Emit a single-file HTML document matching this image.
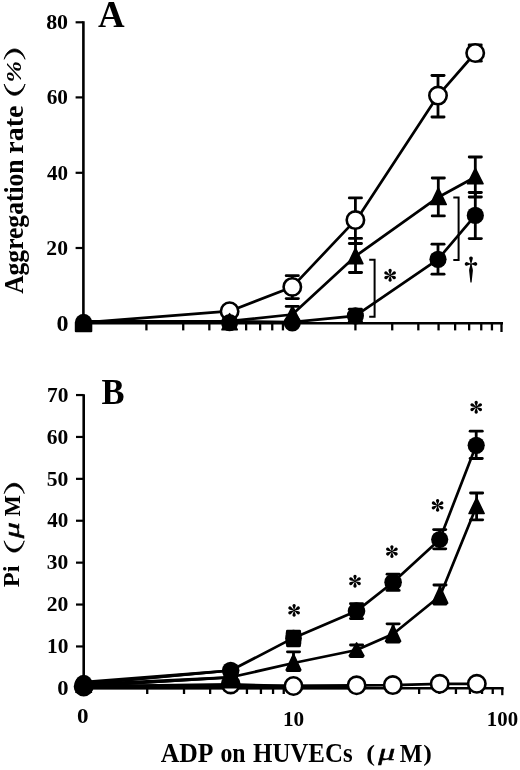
<!DOCTYPE html>
<html><head><meta charset="utf-8"><title>Figure</title>
<style>
html,body{margin:0;padding:0;background:#fff;}
svg{display:block;will-change:transform;}
text{font-family:"Liberation Serif",serif;font-size:100px;fill:#000;}
</style></head>
<body>
<svg width="520" height="770" viewBox="0 0 520 770">
<rect width="520" height="770" fill="#fff"/>
<line x1="83.40" y1="21.30" x2="83.40" y2="324.30" stroke="#000" stroke-width="2.60" stroke-linecap="butt"/>
<line x1="82.10" y1="323.30" x2="503.00" y2="323.30" stroke="#000" stroke-width="2.50" stroke-linecap="butt"/>
<line x1="75.60" y1="22.30" x2="83.40" y2="22.30" stroke="#000" stroke-width="2.20" stroke-linecap="butt"/>
<line x1="75.60" y1="97.40" x2="83.40" y2="97.40" stroke="#000" stroke-width="2.20" stroke-linecap="butt"/>
<line x1="75.60" y1="172.80" x2="83.40" y2="172.80" stroke="#000" stroke-width="2.20" stroke-linecap="butt"/>
<line x1="75.60" y1="248.00" x2="83.40" y2="248.00" stroke="#000" stroke-width="2.20" stroke-linecap="butt"/>
<line x1="146.42" y1="323.30" x2="146.42" y2="330.40" stroke="#000" stroke-width="2.30" stroke-linecap="butt"/>
<line x1="183.22" y1="323.30" x2="183.22" y2="330.40" stroke="#000" stroke-width="2.30" stroke-linecap="butt"/>
<line x1="209.33" y1="323.30" x2="209.33" y2="330.40" stroke="#000" stroke-width="2.30" stroke-linecap="butt"/>
<line x1="229.58" y1="323.30" x2="229.58" y2="330.40" stroke="#000" stroke-width="2.30" stroke-linecap="butt"/>
<line x1="246.13" y1="323.30" x2="246.13" y2="330.40" stroke="#000" stroke-width="2.30" stroke-linecap="butt"/>
<line x1="260.13" y1="323.30" x2="260.13" y2="330.40" stroke="#000" stroke-width="2.30" stroke-linecap="butt"/>
<line x1="272.25" y1="323.30" x2="272.25" y2="330.40" stroke="#000" stroke-width="2.30" stroke-linecap="butt"/>
<line x1="282.94" y1="323.30" x2="282.94" y2="330.40" stroke="#000" stroke-width="2.30" stroke-linecap="butt"/>
<line x1="292.50" y1="323.30" x2="292.50" y2="330.40" stroke="#000" stroke-width="2.30" stroke-linecap="butt"/>
<line x1="355.42" y1="323.30" x2="355.42" y2="330.40" stroke="#000" stroke-width="2.30" stroke-linecap="butt"/>
<line x1="392.22" y1="323.30" x2="392.22" y2="330.40" stroke="#000" stroke-width="2.30" stroke-linecap="butt"/>
<line x1="418.33" y1="323.30" x2="418.33" y2="330.40" stroke="#000" stroke-width="2.30" stroke-linecap="butt"/>
<line x1="438.58" y1="323.30" x2="438.58" y2="330.40" stroke="#000" stroke-width="2.30" stroke-linecap="butt"/>
<line x1="455.13" y1="323.30" x2="455.13" y2="330.40" stroke="#000" stroke-width="2.30" stroke-linecap="butt"/>
<line x1="469.13" y1="323.30" x2="469.13" y2="330.40" stroke="#000" stroke-width="2.30" stroke-linecap="butt"/>
<line x1="481.25" y1="323.30" x2="481.25" y2="330.40" stroke="#000" stroke-width="2.30" stroke-linecap="butt"/>
<line x1="491.94" y1="323.30" x2="491.94" y2="330.40" stroke="#000" stroke-width="2.30" stroke-linecap="butt"/>
<line x1="501.50" y1="323.30" x2="501.50" y2="332.00" stroke="#000" stroke-width="2.30" stroke-linecap="butt"/>
<text transform="translate(46.13 28.59) scale(0.2195 0.2148)" style="font-weight:bold">80</text>
<text transform="translate(46.65 104.08) scale(0.2130 0.2178)" style="font-weight:bold">60</text>
<text transform="translate(46.88 179.58) scale(0.2106 0.2163)" style="font-weight:bold">40</text>
<text transform="translate(46.33 254.59) scale(0.2163 0.2133)" style="font-weight:bold">20</text>
<text transform="translate(56.54 330.67) scale(0.2405 0.2267)" style="font-weight:bold">0</text>
<text transform="translate(97.93 26.60) scale(0.3688 0.3818)" style="font-weight:bold">A</text>
<text transform="translate(23.30 293.86) rotate(-90) scale(0.2556 0.2742)" style="font-weight:bold">Aggregation</text>
<text transform="translate(23.30 153.70) rotate(-90) scale(0.2802 0.2742)" style="font-weight:bold">rate</text>
<path d="M4.20,84.00 C7.53,99.07 21.67,99.07 25.00,84.00 C20.84,95.33 8.36,95.33 4.20,84.00 Z" fill="#000" stroke="#000" stroke-width="0.8" stroke-linejoin="round"/>
<text transform="translate(20.69 82.58) rotate(-90) scale(0.2587 0.2088)" style="font-weight:bold;font-style:italic">%</text>
<path d="M4.20,59.30 C7.53,45.57 21.67,45.57 25.00,59.30 C20.84,49.30 8.36,49.30 4.20,59.30 Z" fill="#000" stroke="#000" stroke-width="0.8" stroke-linejoin="round"/>
<polyline points="83.50,322.60 229.60,311.20 292.30,286.90 355.40,220.10" fill="none" stroke="#000" stroke-width="2.70" stroke-linejoin="round"/>
<polyline points="356.40,220.10 438.00,95.60 475.20,53.00" fill="none" stroke="#000" stroke-width="2.70" stroke-linejoin="round"/>
<line x1="292.30" y1="275.70" x2="292.30" y2="298.60" stroke="#000" stroke-width="2.80" stroke-linecap="butt"/>
<line x1="286.20" y1="275.70" x2="298.40" y2="275.70" stroke="#000" stroke-width="2.80" stroke-linecap="round"/>
<line x1="286.20" y1="298.60" x2="298.40" y2="298.60" stroke="#000" stroke-width="2.80" stroke-linecap="round"/>
<line x1="355.40" y1="197.90" x2="355.40" y2="243.50" stroke="#000" stroke-width="2.80" stroke-linecap="butt"/>
<line x1="349.30" y1="197.90" x2="361.50" y2="197.90" stroke="#000" stroke-width="2.80" stroke-linecap="round"/>
<line x1="349.30" y1="243.50" x2="361.50" y2="243.50" stroke="#000" stroke-width="2.80" stroke-linecap="round"/>
<line x1="438.00" y1="75.50" x2="438.00" y2="117.00" stroke="#000" stroke-width="2.80" stroke-linecap="butt"/>
<line x1="431.90" y1="75.50" x2="444.10" y2="75.50" stroke="#000" stroke-width="2.80" stroke-linecap="round"/>
<line x1="431.90" y1="117.00" x2="444.10" y2="117.00" stroke="#000" stroke-width="2.80" stroke-linecap="round"/>
<line x1="475.20" y1="44.90" x2="475.20" y2="61.00" stroke="#000" stroke-width="2.80" stroke-linecap="butt"/>
<line x1="469.10" y1="44.90" x2="481.30" y2="44.90" stroke="#000" stroke-width="2.80" stroke-linecap="round"/>
<line x1="477.00" y1="61.20" x2="481.30" y2="61.20" stroke="#000" stroke-width="2.80" stroke-linecap="round"/>
<circle cx="229.60" cy="311.20" r="8.70" fill="#fff" stroke="#000" stroke-width="2.60"/>
<circle cx="292.30" cy="286.90" r="8.70" fill="#fff" stroke="#000" stroke-width="2.60"/>
<circle cx="355.40" cy="220.10" r="8.70" fill="#fff" stroke="#000" stroke-width="2.60"/>
<circle cx="438.00" cy="95.60" r="8.70" fill="#fff" stroke="#000" stroke-width="2.60"/>
<circle cx="475.20" cy="53.00" r="8.70" fill="#fff" stroke="#000" stroke-width="2.60"/>
<polyline points="83.50,321.30 229.60,321.20 292.30,314.50 355.50,256.20 438.30,197.20 475.30,177.00" fill="none" stroke="#000" stroke-width="2.70" stroke-linejoin="round"/>
<line x1="292.30" y1="306.40" x2="292.30" y2="322.00" stroke="#000" stroke-width="2.80" stroke-linecap="butt"/>
<line x1="286.20" y1="306.40" x2="298.40" y2="306.40" stroke="#000" stroke-width="2.80" stroke-linecap="round"/>
<line x1="286.20" y1="322.00" x2="298.40" y2="322.00" stroke="#000" stroke-width="2.80" stroke-linecap="round"/>
<line x1="355.50" y1="238.40" x2="355.50" y2="272.50" stroke="#000" stroke-width="2.80" stroke-linecap="butt"/>
<line x1="349.40" y1="238.40" x2="361.60" y2="238.40" stroke="#000" stroke-width="2.80" stroke-linecap="round"/>
<line x1="349.40" y1="272.50" x2="361.60" y2="272.50" stroke="#000" stroke-width="2.80" stroke-linecap="round"/>
<line x1="438.30" y1="178.00" x2="438.30" y2="215.90" stroke="#000" stroke-width="2.80" stroke-linecap="butt"/>
<line x1="432.20" y1="178.00" x2="444.40" y2="178.00" stroke="#000" stroke-width="2.80" stroke-linecap="round"/>
<line x1="432.20" y1="215.90" x2="444.40" y2="215.90" stroke="#000" stroke-width="2.80" stroke-linecap="round"/>
<line x1="475.30" y1="157.00" x2="475.30" y2="197.00" stroke="#000" stroke-width="2.80" stroke-linecap="butt"/>
<line x1="469.20" y1="157.00" x2="481.40" y2="157.00" stroke="#000" stroke-width="2.80" stroke-linecap="round"/>
<line x1="469.20" y1="197.00" x2="481.40" y2="197.00" stroke="#000" stroke-width="2.80" stroke-linecap="round"/>
<polygon points="229.60,313.60 221.90,329.75 237.30,329.75" fill="#000" stroke="#000" stroke-width="1.5" stroke-linejoin="round"/>
<polygon points="292.50,306.20 284.40,322.35 300.60,322.35" fill="#000" stroke="#000" stroke-width="1.5" stroke-linejoin="round"/>
<polygon points="355.50,248.00 348.10,263.65 362.90,263.65" fill="#000" stroke="#000" stroke-width="1.5" stroke-linejoin="round"/>
<polygon points="438.30,188.00 430.30,204.55 446.30,204.55" fill="#000" stroke="#000" stroke-width="1.5" stroke-linejoin="round"/>
<polygon points="475.30,168.40 467.50,183.75 483.10,183.75" fill="#000" stroke="#000" stroke-width="1.5" stroke-linejoin="round"/>
<polyline points="83.50,321.30 229.60,321.30 292.30,322.20 355.40,315.80 438.00,259.30 475.30,215.40" fill="none" stroke="#000" stroke-width="2.70" stroke-linejoin="round"/>
<line x1="355.40" y1="309.20" x2="355.40" y2="321.50" stroke="#000" stroke-width="2.80" stroke-linecap="butt"/>
<line x1="349.30" y1="309.20" x2="361.50" y2="309.20" stroke="#000" stroke-width="2.80" stroke-linecap="round"/>
<line x1="349.30" y1="321.50" x2="361.50" y2="321.50" stroke="#000" stroke-width="2.80" stroke-linecap="round"/>
<line x1="438.00" y1="244.20" x2="438.00" y2="274.20" stroke="#000" stroke-width="2.80" stroke-linecap="butt"/>
<line x1="431.90" y1="244.20" x2="444.10" y2="244.20" stroke="#000" stroke-width="2.80" stroke-linecap="round"/>
<line x1="431.90" y1="274.20" x2="444.10" y2="274.20" stroke="#000" stroke-width="2.80" stroke-linecap="round"/>
<line x1="475.30" y1="192.50" x2="475.30" y2="238.60" stroke="#000" stroke-width="2.80" stroke-linecap="butt"/>
<line x1="469.20" y1="192.50" x2="481.40" y2="192.50" stroke="#000" stroke-width="2.80" stroke-linecap="round"/>
<line x1="469.20" y1="238.60" x2="481.40" y2="238.60" stroke="#000" stroke-width="2.80" stroke-linecap="round"/>
<circle cx="229.60" cy="322.60" r="8.60" fill="#000"/>
<circle cx="292.30" cy="322.80" r="8.60" fill="#000"/>
<circle cx="355.40" cy="315.80" r="8.60" fill="#000"/>
<circle cx="438.00" cy="259.30" r="8.60" fill="#000"/>
<circle cx="475.30" cy="215.40" r="8.60" fill="#000"/>
<path d="M74.8,322.6 A8.75,8.75 0 0 1 92.3,322.6 L92.3,331.2 Q92.3,332.3 91.2,332.3 L75.9,332.3 Q74.8,332.3 74.8,331.2 Z" fill="#000"/>
<polyline points="369.2,259.8 374.6,259.8 374.6,316.8 369.2,316.8" fill="none" stroke="#000" stroke-width="2.0"/>
<polyline points="453.3,197.4 458.6,197.4 458.6,259.9 453.3,259.9" fill="none" stroke="#000" stroke-width="2.0"/>
<g transform="translate(390.10 275.30)" fill="#000"><path transform="rotate(0)" d="M0,0.2 L-1.52,-4.17 A1.65,1.65 0 1 1 1.52,-4.17 Z"/><path transform="rotate(60)" d="M0,0.2 L-1.52,-4.17 A1.65,1.65 0 1 1 1.52,-4.17 Z"/><path transform="rotate(120)" d="M0,0.2 L-1.52,-4.17 A1.65,1.65 0 1 1 1.52,-4.17 Z"/><path transform="rotate(180)" d="M0,0.2 L-1.52,-4.17 A1.65,1.65 0 1 1 1.52,-4.17 Z"/><path transform="rotate(240)" d="M0,0.2 L-1.52,-4.17 A1.65,1.65 0 1 1 1.52,-4.17 Z"/><path transform="rotate(300)" d="M0,0.2 L-1.52,-4.17 A1.65,1.65 0 1 1 1.52,-4.17 Z"/><circle r="1.0"/></g>
<g fill="#000"><path d="M471.00,264.90 L469.33,259.07 A1.85,1.85 0 1 1 472.67,259.07 Z"/><path d="M471.50,263.90 L467.26,265.47 A1.76,1.76 0 1 1 467.26,262.33 Z"/><path d="M470.50,263.90 L474.74,262.33 A1.76,1.76 0 1 1 474.74,265.47 Z"/><path d="M470.30,263.90 C470.10,266.90 469.10,268.40 469.10,270.40 L470.40,282.50 L471.60,282.50 L472.90,270.40 C472.90,268.40 471.90,266.90 471.70,263.90 Z"/></g>
<line x1="83.70" y1="394.20" x2="83.70" y2="689.20" stroke="#000" stroke-width="2.60" stroke-linecap="butt"/>
<line x1="82.40" y1="688.20" x2="503.60" y2="688.20" stroke="#000" stroke-width="2.50" stroke-linecap="butt"/>
<line x1="76.00" y1="646.45" x2="83.70" y2="646.45" stroke="#000" stroke-width="2.20" stroke-linecap="butt"/>
<line x1="76.00" y1="604.55" x2="83.70" y2="604.55" stroke="#000" stroke-width="2.20" stroke-linecap="butt"/>
<line x1="76.00" y1="562.65" x2="83.70" y2="562.65" stroke="#000" stroke-width="2.20" stroke-linecap="butt"/>
<line x1="76.00" y1="520.75" x2="83.70" y2="520.75" stroke="#000" stroke-width="2.20" stroke-linecap="butt"/>
<line x1="76.00" y1="478.85" x2="83.70" y2="478.85" stroke="#000" stroke-width="2.20" stroke-linecap="butt"/>
<line x1="76.00" y1="436.95" x2="83.70" y2="436.95" stroke="#000" stroke-width="2.20" stroke-linecap="butt"/>
<line x1="76.00" y1="395.05" x2="83.70" y2="395.05" stroke="#000" stroke-width="2.20" stroke-linecap="butt"/>
<line x1="147.22" y1="688.20" x2="147.22" y2="694.00" stroke="#000" stroke-width="2.30" stroke-linecap="butt"/>
<line x1="184.02" y1="688.20" x2="184.02" y2="694.00" stroke="#000" stroke-width="2.30" stroke-linecap="butt"/>
<line x1="210.13" y1="688.20" x2="210.13" y2="694.00" stroke="#000" stroke-width="2.30" stroke-linecap="butt"/>
<line x1="230.38" y1="688.20" x2="230.38" y2="694.00" stroke="#000" stroke-width="2.30" stroke-linecap="butt"/>
<line x1="246.93" y1="688.20" x2="246.93" y2="694.00" stroke="#000" stroke-width="2.30" stroke-linecap="butt"/>
<line x1="260.93" y1="688.20" x2="260.93" y2="694.00" stroke="#000" stroke-width="2.30" stroke-linecap="butt"/>
<line x1="273.05" y1="688.20" x2="273.05" y2="694.00" stroke="#000" stroke-width="2.30" stroke-linecap="butt"/>
<line x1="283.74" y1="688.20" x2="283.74" y2="694.00" stroke="#000" stroke-width="2.30" stroke-linecap="butt"/>
<line x1="293.30" y1="688.20" x2="293.30" y2="694.00" stroke="#000" stroke-width="2.30" stroke-linecap="butt"/>
<line x1="356.22" y1="688.20" x2="356.22" y2="694.00" stroke="#000" stroke-width="2.30" stroke-linecap="butt"/>
<line x1="393.02" y1="688.20" x2="393.02" y2="694.00" stroke="#000" stroke-width="2.30" stroke-linecap="butt"/>
<line x1="419.13" y1="688.20" x2="419.13" y2="694.00" stroke="#000" stroke-width="2.30" stroke-linecap="butt"/>
<line x1="439.38" y1="688.20" x2="439.38" y2="694.00" stroke="#000" stroke-width="2.30" stroke-linecap="butt"/>
<line x1="455.93" y1="688.20" x2="455.93" y2="694.00" stroke="#000" stroke-width="2.30" stroke-linecap="butt"/>
<line x1="469.93" y1="688.20" x2="469.93" y2="694.00" stroke="#000" stroke-width="2.30" stroke-linecap="butt"/>
<line x1="482.05" y1="688.20" x2="482.05" y2="694.00" stroke="#000" stroke-width="2.30" stroke-linecap="butt"/>
<line x1="492.74" y1="688.20" x2="492.74" y2="694.00" stroke="#000" stroke-width="2.30" stroke-linecap="butt"/>
<line x1="502.30" y1="688.20" x2="502.30" y2="695.20" stroke="#000" stroke-width="2.30" stroke-linecap="butt"/>
<text transform="translate(46.99 653.18) scale(0.2136 0.2163)" style="font-weight:bold">10</text>
<text transform="translate(46.73 611.28) scale(0.2163 0.2163)" style="font-weight:bold">20</text>
<text transform="translate(46.85 569.38) scale(0.2151 0.2163)" style="font-weight:bold">30</text>
<text transform="translate(47.28 527.48) scale(0.2106 0.2163)" style="font-weight:bold">40</text>
<text transform="translate(46.73 485.58) scale(0.2163 0.2163)" style="font-weight:bold">50</text>
<text transform="translate(46.85 443.68) scale(0.2151 0.2163)" style="font-weight:bold">60</text>
<text transform="translate(46.92 401.78) scale(0.2144 0.2163)" style="font-weight:bold">70</text>
<text transform="translate(57.20 694.50) scale(0.2262 0.2044)" style="font-weight:bold">0</text>
<text transform="translate(101.38 403.82) scale(0.3456 0.3682)" style="font-weight:bold">B</text>
<text transform="translate(76.98 722.98) scale(0.2310 0.2178)" style="font-weight:bold">0</text>
<text transform="translate(282.90 725.58) scale(0.2125 0.2193)" style="font-weight:bold">10</text>
<text transform="translate(486.84 725.58) scale(0.2080 0.2193)" style="font-weight:bold">100</text>
<text transform="translate(160.74 761.80) scale(0.2569 0.2636)" style="font-weight:bold">ADP</text>
<text transform="translate(220.45 761.80) scale(0.2380 0.2636)" style="font-weight:bold">on</text>
<text transform="translate(253.03 761.80) scale(0.2490 0.2636)" style="font-weight:bold">HUVECs</text>
<text transform="translate(366.32 760.59) scale(0.2627 0.2330)" style="font-weight:bold">(</text>
<text transform="translate(378.20 760.30) scale(0.3383 0.2326)" style="font-style:italic;stroke:#000;stroke-width:2.10">μ</text>
<text transform="translate(399.84 761.60) scale(0.2400 0.2565)" style="font-weight:bold">M</text>
<text transform="translate(423.13 760.59) scale(0.2577 0.2330)" style="font-weight:bold">)</text>
<text transform="translate(19.20 587.37) rotate(-90) scale(0.2465 0.2382)" style="font-weight:bold">Pi</text>
<path d="M4.20,540.80 C7.40,555.87 21.00,555.87 24.20,540.80 C20.20,552.13 8.20,552.13 4.20,540.80 Z" fill="#000" stroke="#000" stroke-width="0.8" stroke-linejoin="round"/>
<text transform="translate(19.25 538.30) rotate(-90) scale(0.3191 0.2163)" style="font-style:italic;stroke:#000;stroke-width:2.24">μ</text>
<text transform="translate(19.50 516.54) rotate(-90) scale(0.2267 0.2321)" style="font-weight:bold">M</text>
<path d="M4.20,493.60 C7.40,479.87 21.00,479.87 24.20,493.60 C20.20,483.60 8.20,483.60 4.20,493.60 Z" fill="#000" stroke="#000" stroke-width="0.8" stroke-linejoin="round"/>
<polyline points="83.70,686.40 230.70,684.40 293.50,686.00 356.60,685.30 392.80,685.10 439.70,683.80 476.80,683.80" fill="none" stroke="#000" stroke-width="2.70" stroke-linejoin="round"/>
<line x1="84.00" y1="686.85" x2="350.00" y2="686.85" stroke="#000" stroke-width="4.90" stroke-linecap="butt"/>
<circle cx="83.70" cy="686.40" r="8.70" fill="#fff" stroke="#000" stroke-width="2.60"/>
<circle cx="230.70" cy="684.40" r="8.70" fill="#fff" stroke="#000" stroke-width="2.60"/>
<circle cx="293.50" cy="686.00" r="8.70" fill="#fff" stroke="#000" stroke-width="2.60"/>
<circle cx="356.60" cy="685.30" r="8.70" fill="#fff" stroke="#000" stroke-width="2.60"/>
<circle cx="392.80" cy="685.10" r="8.70" fill="#fff" stroke="#000" stroke-width="2.60"/>
<circle cx="439.70" cy="683.80" r="8.70" fill="#fff" stroke="#000" stroke-width="2.60"/>
<circle cx="476.80" cy="683.80" r="8.70" fill="#fff" stroke="#000" stroke-width="2.60"/>
<polyline points="83.70,686.00 230.70,677.30 293.50,663.00 356.60,650.00 393.10,634.00 440.00,596.00 476.60,506.00" fill="none" stroke="#000" stroke-width="2.70" stroke-linejoin="round"/>
<polygon points="83.83,687.70 230.77,678.50 230.63,676.10 83.57,683.10" fill="#000"/>
<line x1="293.50" y1="651.80" x2="293.50" y2="670.70" stroke="#000" stroke-width="2.80" stroke-linecap="butt"/>
<line x1="287.40" y1="651.80" x2="299.60" y2="651.80" stroke="#000" stroke-width="2.80" stroke-linecap="round"/>
<line x1="287.40" y1="670.70" x2="299.60" y2="670.70" stroke="#000" stroke-width="2.80" stroke-linecap="round"/>
<line x1="356.60" y1="645.00" x2="356.60" y2="656.50" stroke="#000" stroke-width="2.80" stroke-linecap="butt"/>
<line x1="350.50" y1="645.00" x2="362.70" y2="645.00" stroke="#000" stroke-width="2.80" stroke-linecap="round"/>
<line x1="350.50" y1="656.50" x2="362.70" y2="656.50" stroke="#000" stroke-width="2.80" stroke-linecap="round"/>
<line x1="393.10" y1="623.80" x2="393.10" y2="642.00" stroke="#000" stroke-width="2.80" stroke-linecap="butt"/>
<line x1="387.00" y1="623.80" x2="399.20" y2="623.80" stroke="#000" stroke-width="2.80" stroke-linecap="round"/>
<line x1="387.00" y1="642.00" x2="399.20" y2="642.00" stroke="#000" stroke-width="2.80" stroke-linecap="round"/>
<line x1="440.00" y1="585.00" x2="440.00" y2="604.00" stroke="#000" stroke-width="2.80" stroke-linecap="butt"/>
<line x1="433.90" y1="585.00" x2="446.10" y2="585.00" stroke="#000" stroke-width="2.80" stroke-linecap="round"/>
<line x1="433.90" y1="604.00" x2="446.10" y2="604.00" stroke="#000" stroke-width="2.80" stroke-linecap="round"/>
<line x1="476.60" y1="493.00" x2="476.60" y2="519.80" stroke="#000" stroke-width="2.80" stroke-linecap="butt"/>
<line x1="470.50" y1="493.00" x2="482.70" y2="493.00" stroke="#000" stroke-width="2.80" stroke-linecap="round"/>
<line x1="470.50" y1="519.80" x2="482.70" y2="519.80" stroke="#000" stroke-width="2.80" stroke-linecap="round"/>
<polygon points="83.70,677.60 75.90,692.35 91.50,692.35" fill="#000" stroke="#000" stroke-width="1.5" stroke-linejoin="round"/>
<rect x="75.2" y="683" width="16.9" height="8.6" rx="1" fill="#000"/>
<polygon points="230.70,668.10 223.00,684.85 238.40,684.85" fill="#000" stroke="#000" stroke-width="1.5" stroke-linejoin="round"/>
<rect x="222.4" y="682" width="16.6" height="6.5" fill="#000"/>
<rect x="223.4" y="671" width="14.6" height="14" fill="#000"/>
<polygon points="293.50,654.00 286.10,670.05 300.90,670.05" fill="#000" stroke="#000" stroke-width="1.5" stroke-linejoin="round"/>
<polygon points="356.60,642.80 349.20,655.85 364.00,655.85" fill="#000" stroke="#000" stroke-width="1.5" stroke-linejoin="round"/>
<polygon points="393.10,624.80 385.50,641.35 400.70,641.35" fill="#000" stroke="#000" stroke-width="1.5" stroke-linejoin="round"/>
<polygon points="440.00,586.40 432.30,603.15 447.70,603.15" fill="#000" stroke="#000" stroke-width="1.5" stroke-linejoin="round"/>
<polygon points="476.60,497.90 469.00,513.55 484.20,513.55" fill="#000" stroke="#000" stroke-width="1.5" stroke-linejoin="round"/>
<polyline points="83.70,683.60 230.70,670.50 293.50,637.90 356.50,611.10 393.10,582.30 439.70,539.50 476.20,445.30" fill="none" stroke="#000" stroke-width="2.70" stroke-linejoin="round"/>
<polygon points="83.91,685.59 230.80,671.70 230.60,669.30 83.49,680.81" fill="#000"/>
<line x1="293.50" y1="631.20" x2="293.50" y2="645.80" stroke="#000" stroke-width="2.80" stroke-linecap="butt"/>
<line x1="287.40" y1="631.20" x2="299.60" y2="631.20" stroke="#000" stroke-width="2.80" stroke-linecap="round"/>
<line x1="287.40" y1="645.80" x2="299.60" y2="645.80" stroke="#000" stroke-width="2.80" stroke-linecap="round"/>
<line x1="356.50" y1="603.70" x2="356.50" y2="618.60" stroke="#000" stroke-width="2.80" stroke-linecap="butt"/>
<line x1="350.40" y1="603.70" x2="362.60" y2="603.70" stroke="#000" stroke-width="2.80" stroke-linecap="round"/>
<line x1="350.40" y1="618.60" x2="362.60" y2="618.60" stroke="#000" stroke-width="2.80" stroke-linecap="round"/>
<line x1="393.10" y1="574.20" x2="393.10" y2="590.40" stroke="#000" stroke-width="2.80" stroke-linecap="butt"/>
<line x1="387.00" y1="574.20" x2="399.20" y2="574.20" stroke="#000" stroke-width="2.80" stroke-linecap="round"/>
<line x1="387.00" y1="590.40" x2="399.20" y2="590.40" stroke="#000" stroke-width="2.80" stroke-linecap="round"/>
<line x1="439.70" y1="529.60" x2="439.70" y2="548.80" stroke="#000" stroke-width="2.80" stroke-linecap="butt"/>
<line x1="433.60" y1="529.60" x2="445.80" y2="529.60" stroke="#000" stroke-width="2.80" stroke-linecap="round"/>
<line x1="433.60" y1="548.80" x2="445.80" y2="548.80" stroke="#000" stroke-width="2.80" stroke-linecap="round"/>
<line x1="476.20" y1="431.20" x2="476.20" y2="458.50" stroke="#000" stroke-width="2.80" stroke-linecap="butt"/>
<line x1="470.10" y1="431.20" x2="482.30" y2="431.20" stroke="#000" stroke-width="2.80" stroke-linecap="round"/>
<line x1="470.10" y1="458.50" x2="482.30" y2="458.50" stroke="#000" stroke-width="2.80" stroke-linecap="round"/>
<circle cx="83.70" cy="683.60" r="8.80" fill="#000"/>
<circle cx="230.70" cy="670.50" r="8.80" fill="#000"/>
<circle cx="356.50" cy="611.10" r="8.80" fill="#000"/>
<circle cx="393.10" cy="582.30" r="8.80" fill="#000"/>
<circle cx="439.70" cy="539.50" r="8.60" fill="#000"/>
<circle cx="476.20" cy="445.30" r="8.60" fill="#000"/>
<rect x="285.70" y="630.10" width="15.60" height="16.10" rx="3.2" fill="#000"/>
<circle cx="293.50" cy="638.15" r="8.30" fill="#000"/>
<circle cx="83.70" cy="686.50" r="9.00" fill="#000"/>
<g transform="translate(294.10 610.40)" fill="#000"><path transform="rotate(0)" d="M0,0.2 L-1.52,-4.17 A1.65,1.65 0 1 1 1.52,-4.17 Z"/><path transform="rotate(60)" d="M0,0.2 L-1.52,-4.17 A1.65,1.65 0 1 1 1.52,-4.17 Z"/><path transform="rotate(120)" d="M0,0.2 L-1.52,-4.17 A1.65,1.65 0 1 1 1.52,-4.17 Z"/><path transform="rotate(180)" d="M0,0.2 L-1.52,-4.17 A1.65,1.65 0 1 1 1.52,-4.17 Z"/><path transform="rotate(240)" d="M0,0.2 L-1.52,-4.17 A1.65,1.65 0 1 1 1.52,-4.17 Z"/><path transform="rotate(300)" d="M0,0.2 L-1.52,-4.17 A1.65,1.65 0 1 1 1.52,-4.17 Z"/><circle r="1.0"/></g>
<g transform="translate(355.00 581.20)" fill="#000"><path transform="rotate(0)" d="M0,0.2 L-1.52,-4.17 A1.65,1.65 0 1 1 1.52,-4.17 Z"/><path transform="rotate(60)" d="M0,0.2 L-1.52,-4.17 A1.65,1.65 0 1 1 1.52,-4.17 Z"/><path transform="rotate(120)" d="M0,0.2 L-1.52,-4.17 A1.65,1.65 0 1 1 1.52,-4.17 Z"/><path transform="rotate(180)" d="M0,0.2 L-1.52,-4.17 A1.65,1.65 0 1 1 1.52,-4.17 Z"/><path transform="rotate(240)" d="M0,0.2 L-1.52,-4.17 A1.65,1.65 0 1 1 1.52,-4.17 Z"/><path transform="rotate(300)" d="M0,0.2 L-1.52,-4.17 A1.65,1.65 0 1 1 1.52,-4.17 Z"/><circle r="1.0"/></g>
<g transform="translate(391.90 551.60)" fill="#000"><path transform="rotate(0)" d="M0,0.2 L-1.52,-4.17 A1.65,1.65 0 1 1 1.52,-4.17 Z"/><path transform="rotate(60)" d="M0,0.2 L-1.52,-4.17 A1.65,1.65 0 1 1 1.52,-4.17 Z"/><path transform="rotate(120)" d="M0,0.2 L-1.52,-4.17 A1.65,1.65 0 1 1 1.52,-4.17 Z"/><path transform="rotate(180)" d="M0,0.2 L-1.52,-4.17 A1.65,1.65 0 1 1 1.52,-4.17 Z"/><path transform="rotate(240)" d="M0,0.2 L-1.52,-4.17 A1.65,1.65 0 1 1 1.52,-4.17 Z"/><path transform="rotate(300)" d="M0,0.2 L-1.52,-4.17 A1.65,1.65 0 1 1 1.52,-4.17 Z"/><circle r="1.0"/></g>
<g transform="translate(437.60 505.40)" fill="#000"><path transform="rotate(0)" d="M0,0.2 L-1.52,-4.17 A1.65,1.65 0 1 1 1.52,-4.17 Z"/><path transform="rotate(60)" d="M0,0.2 L-1.52,-4.17 A1.65,1.65 0 1 1 1.52,-4.17 Z"/><path transform="rotate(120)" d="M0,0.2 L-1.52,-4.17 A1.65,1.65 0 1 1 1.52,-4.17 Z"/><path transform="rotate(180)" d="M0,0.2 L-1.52,-4.17 A1.65,1.65 0 1 1 1.52,-4.17 Z"/><path transform="rotate(240)" d="M0,0.2 L-1.52,-4.17 A1.65,1.65 0 1 1 1.52,-4.17 Z"/><path transform="rotate(300)" d="M0,0.2 L-1.52,-4.17 A1.65,1.65 0 1 1 1.52,-4.17 Z"/><circle r="1.0"/></g>
<g transform="translate(476.20 407.20)" fill="#000"><path transform="rotate(0)" d="M0,0.2 L-1.52,-4.17 A1.65,1.65 0 1 1 1.52,-4.17 Z"/><path transform="rotate(60)" d="M0,0.2 L-1.52,-4.17 A1.65,1.65 0 1 1 1.52,-4.17 Z"/><path transform="rotate(120)" d="M0,0.2 L-1.52,-4.17 A1.65,1.65 0 1 1 1.52,-4.17 Z"/><path transform="rotate(180)" d="M0,0.2 L-1.52,-4.17 A1.65,1.65 0 1 1 1.52,-4.17 Z"/><path transform="rotate(240)" d="M0,0.2 L-1.52,-4.17 A1.65,1.65 0 1 1 1.52,-4.17 Z"/><path transform="rotate(300)" d="M0,0.2 L-1.52,-4.17 A1.65,1.65 0 1 1 1.52,-4.17 Z"/><circle r="1.0"/></g>
</svg>
</body></html>
